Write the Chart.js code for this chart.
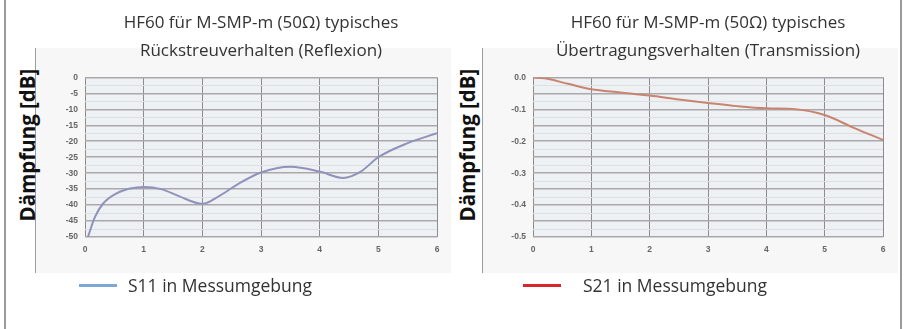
<!DOCTYPE html>
<html>
<head>
<meta charset="utf-8">
<script src="https://cdn.jsdelivr.net/npm/chart.js@4/dist/chart.umd.min.js"></script>
<style>
  html, body { margin:0; padding:0; background:#fff; }
  #wrap { position:relative; width:908px; height:329px; overflow:hidden; background:#fff; font-family:'Open Sans', sans-serif; }
  .vline { position:absolute; top:0; height:329px; width:1.5px; background:#9a9a9a; }
  .panel { position:absolute; top:48px; height:225px; background:#f7f7f7; border-left:1.5px solid #9c9c9c; }
  .ytitle { position:absolute; width:220px; height:28px; line-height:28px; text-align:center; font-weight:bold; font-size:20.5px; color:#111; transform:rotate(-90deg); white-space:nowrap; }
  .cv { position:absolute; top:0; }
  .leg-line { position:absolute; height:3px; width:38px; }
  .leg-text { position:absolute; font-size:17.5px; color:#333; line-height:22px; white-space:nowrap; }
</style>
</head>
<body>
<div id="wrap">
  <div class="vline" style="left:4px"></div>
  <div class="vline" style="left:900px"></div>
  <div class="panel" style="left:35px; width:415px"></div>
  <div class="panel" style="left:482px; width:415px"></div>
  <div class="ytitle" style="left:-83px; top:131px">Dämpfung [dB]</div>
  <div class="ytitle" style="left:357px; top:131px">Dämpfung [dB]</div>
  <canvas id="c1" class="cv" style="left:0" width="455" height="329"></canvas>
  <canvas id="c2" class="cv" style="left:455px" width="453" height="329"></canvas>
  <div class="leg-line" style="left:79px; top:284px; background:#7fa6d6"></div>
  <div class="leg-text" style="left:128px; top:274px">S11 in Messumgebung</div>
  <div class="leg-line" style="left:523px; top:284px; background:#d9262b"></div>
  <div class="leg-text" style="left:583px; top:274px">S21 in Messumgebung</div>
</div>
<script>
// ---- data ----
const titleLeft = ['HF60 für M-SMP-m (50Ω) typisches', 'Rückstreuverhalten (Reflexion)'];
const titleRight = ['HF60 für M-SMP-m (50Ω) typisches', 'Übertragungsverhalten (Transmission)'];
const seriesLeft = 'S11 in Messumgebung';
const seriesRight = 'S21 in Messumgebung';
const s11Freq = [0.05, 0.17, 0.31, 0.54, 0.77, 1.0, 1.3, 1.6, 2.0, 2.3, 2.6, 3.0, 3.5, 4.0, 4.4, 4.7, 5.0, 5.5, 6.0];
const s11Vals = [-50, -43.7, -39.5, -36.3, -34.8, -34.3, -35, -37.2, -39.6, -37, -33.5, -29.8, -28, -29.5, -31.5, -29.5, -25, -20.6, -17.5];
const s21Freq = [0, 0.2, 0.6, 1.0, 1.5, 2.0, 2.5, 3.0, 3.5, 4.0, 4.5, 5.0, 5.5, 6.0];
const s21Vals = [0, -0.003, -0.02, -0.037, -0.047, -0.057, -0.069, -0.08, -0.09, -0.097, -0.1, -0.118, -0.158, -0.196];
const xTicks = [0, 1, 2, 3, 4, 5, 6];
const yTicksLeft = [0, -5, -10, -15, -20, -25, -30, -35, -40, -45, -50];
const yTicksRight = [0, -0.1, -0.2, -0.3, -0.4, -0.5];

const plotBg = {
  id: 'plotBg',
  beforeDraw(chart) {
    const {ctx, chartArea: a} = chart;
    ctx.save();
    ctx.fillStyle = '#eef1f3';
    ctx.fillRect(a.left, a.top, a.width, a.height);
    ctx.restore();
  }
};

function makeChart(id, opts) {
  const pts = opts.xs.map((x, i) => ({x: x, y: opts.ys[i]}));
  const yMin = Math.min(...opts.yTicks), yMax = Math.max(...opts.yTicks);
  const labelStep = opts.yTicks.length > 1 ? Math.abs(opts.yTicks[1] - opts.yTicks[0]) : 1;
  const isLabel = v => Math.abs(v / labelStep - Math.round(v / labelStep)) < 1e-6;
  const isMajor = v => Math.abs(v / opts.gridStep - Math.round(v / opts.gridStep)) < 1e-6;
  return new Chart(document.getElementById(id), {
    type: 'line',
    data: {
      datasets: [{
        label: opts.label,
        data: pts,
        borderColor: opts.color,
        borderWidth: 2,
        pointRadius: 0,
        fill: false,
        cubicInterpolationMode: 'monotone'
      }]
    },
    options: {
      responsive: false,
      animation: false,
      devicePixelRatio: 1,
      layout: { padding: { left: 0, right: opts.padRight, top: 0, bottom: 72 } },
      plugins: {
        legend: { display: false },
        tooltip: { enabled: false },
        title: {
          display: true,
          text: opts.title,
          fullSize: false,
          color: '#333',
          font: { family: 'Open Sans', size: 17, weight: 'normal', lineHeight: 1.6 },
          padding: { top: 10, bottom: 13 }
        }
      },
      scales: {
        x: {
          type: 'linear',
          min: xTicks[0], max: xTicks[xTicks.length - 1],
          afterBuildTicks: s => { s.ticks = xTicks.map(v => ({value: v})); },
          afterFit: s => { s.height = 20; },
          border: { display: false },
          grid: { color: '#8f8b8f', lineWidth: 1, drawTicks: false },
          ticks: { padding: 8, color: '#666', font: { family: 'Liberation Sans', size: 8.5, weight: 'bold' }, autoSkip: false, maxRotation: 0 }
        },
        y: {
          type: 'linear',
          min: yMin, max: yMax,
          afterBuildTicks: s => {
            const t = [];
            const n = Math.round((yMax - yMin) / (opts.gridStep / 2));
            for (let i = 0; i <= n; i++) t.push({value: yMax - i * opts.gridStep / 2});
            s.ticks = t;
          },
          afterFit: s => { s.width = opts.yWidth; },
          border: { display: false },
          grid: {
            drawTicks: false,
            color: c => isMajor(c.tick.value) ? '#aba7ab' : '#dde0e2',
            lineWidth: c => isMajor(c.tick.value) ? 1.5 : 1
          },
          ticks: {
            padding: 7, color: '#666', autoSkip: false,
            font: { family: 'Liberation Sans', size: 8.5, weight: 'bold' },
            callback: v => isLabel(v) ? (Math.abs(v) < 1e-9 ? opts.zero : v.toFixed(opts.dec)) : ''
          }
        }
      }
    },
    plugins: [plotBg]
  });
}

makeChart('c1', { xs: s11Freq, ys: s11Vals, yTicks: yTicksLeft, gridStep: 5, label: seriesLeft, color: '#8f92bb', title: titleLeft, padRight: 18, yWidth: 85, zero: '0', dec: 0 });
makeChart('c2', { xs: s21Freq, ys: s21Vals, yTicks: yTicksRight, gridStep: 0.05, label: seriesRight, color: '#c98470', title: titleRight, padRight: 25, yWidth: 78, zero: '0.0', dec: 1 });
</script>
</body>
</html>
